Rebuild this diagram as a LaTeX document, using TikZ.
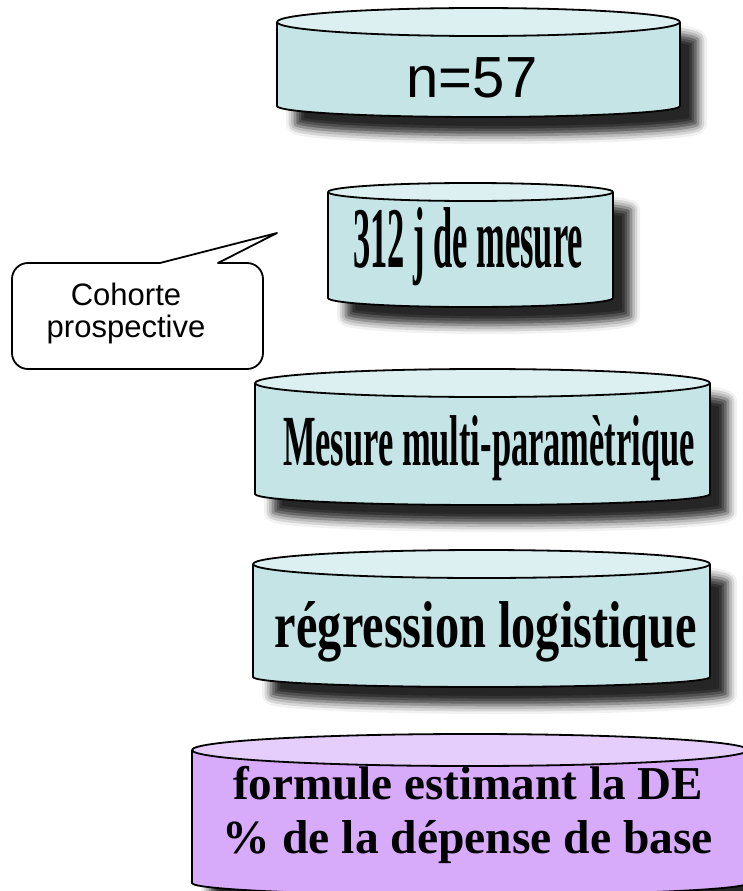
\documentclass[tikz,border=0pt]{standalone}
\usepackage{graphicx}
\usepackage{fontspec}
\setmainfont{Liberation Serif}
\newfontfamily\arialfont{Liberation Sans}
\usetikzlibrary{shadows.blur}

\definecolor{cyanbody}{HTML}{C4E4E6}
\definecolor{cyantop}{HTML}{DCEFF1}
\definecolor{lilacbody}{HTML}{D7AAFA}
\definecolor{lilactop}{HTML}{E6CEFC}

% #1 centre x, #2 half width, #3 y of top rim centre, #4 y where the sides end,
% #5 top rim radius, #6 bottom rim radius, #7 colour prefix
\newcommand\drum[7]{%
  \path[drumshadow, fill=#7body]
    (#1-#2,#3) -- (#1-#2,#4)
    arc[start angle=180, end angle=360, x radius=#2, y radius=#6]
    -- (#1+#2,#3)
    arc[start angle=0, end angle=180, x radius=#2, y radius=#5] -- cycle;
  \draw[drumline, fill=#7top] (#1,#3) ellipse[x radius=#2, y radius=#5];
  \draw[drumline] (#1-#2,#3) -- (#1-#2,#4)
    arc[start angle=180, end angle=360, x radius=#2, y radius=#6]
    -- (#1+#2,#3);
}

\begin{document}
\begin{tikzpicture}[x=1pt, y=1pt,
  drumshadow/.style={blur shadow={shadow xshift=18pt, shadow yshift=-18pt,
      shadow blur radius=9pt, shadow opacity=85}},
  drumline/.style={draw=black, line width=1.8pt, line join=round},
  wordart/.style={font=\bfseries\fontsize{48}{52}\selectfont, inner sep=0pt, anchor=base},
  sanslabel/.style={font=\arialfont\fontsize{31}{32}\selectfont, inner sep=0pt, align=center},
  ]
\useasboundingbox (0,0) rectangle (742,-891);

% the five drums, top to bottom
\drum{478.5}{201.5}{-22}{-106}{14}{11}{cyan}
\drum{470.5}{142.5}{-192}{-298}{9}{9}{cyan}
\drum{482.5}{227.5}{-383}{-494}{14}{11}{cyan}
\drum{481.5}{228.5}{-564}{-677}{14}{10}{cyan}
\drum{470}{278}{-750}{-883}{16}{12}{lilac}

% labels on the drums
\node[font=\arialfont\fontsize{58}{60}\selectfont, inner sep=0pt, anchor=base]
  (count) at (472,-97) {n=57};
\node[wordart] (days) at (468,-267) {\resizebox{230pt}{60pt}{312 j de mesure}};
\node[wordart] (measure) at (489,-465) {\resizebox{412pt}{50pt}{Mesure multi-paramètrique}};
\node[wordart] (regression) at (486,-647) {\resizebox{422pt}{46pt}{régression logistique}};
\node[wordart] (formula) at (468,-799) {\resizebox{470pt}{!}{formule estimant la DE}};
\node[wordart] (share) at (468,-853) {\resizebox{490pt}{!}{\% de la dépense de base}};

% speech bubble
\draw[fill=white, line width=1.8pt, line join=round]
  (160,-263) -- (277,-233) -- (218,-263) -- (247,-263)
  arc[start angle=90, end angle=0, radius=16] -- (263,-353)
  arc[start angle=0, end angle=-90, radius=16] -- (28,-369)
  arc[start angle=270, end angle=180, radius=16] -- (12,-279)
  arc[start angle=180, end angle=90, radius=16] -- cycle;
\node[sanslabel] (cohort) at (126,-313) {Cohorte\\prospective};
\end{tikzpicture}
\end{document}
